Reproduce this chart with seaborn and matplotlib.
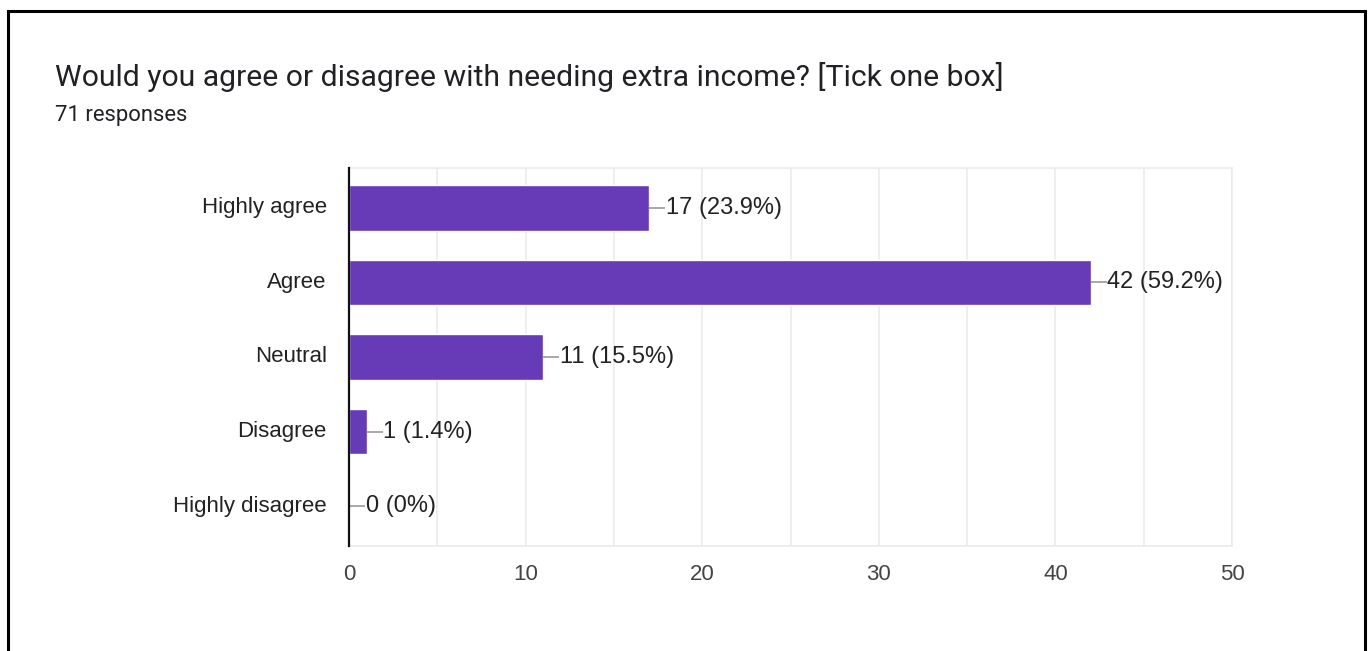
import matplotlib
matplotlib.use("Agg")
import matplotlib.pyplot as plt
import seaborn as sns
import pandas as pd
from matplotlib.patches import Rectangle
from matplotlib.ticker import MultipleLocator

categories = ["Highly agree", "Agree", "Neutral", "Disagree", "Highly disagree"]
counts = [17, 42, 11, 1, 0]
percent_labels = ["23.9%", "59.2%", "15.5%", "1.4%", "0%"]
x_ticks = [0, 10, 20, 30, 40, 50]

title = "Would you agree or disagree with needing extra income? [Tick one box]"
subtitle = "71 responses"

df = pd.DataFrame({"answer": categories, "count": counts})

sns.set_theme(style="white")
plt.rcParams["font.family"] = ["Liberation Sans", "DejaVu Sans"]

W, H, DPI = 1371, 651, 100
fig = plt.figure(figsize=(W / DPI, H / DPI), dpi=DPI)
fig.patch.set_facecolor("white")

# plot area in pixel terms
left, right, top, bottom = 349, 1232, 168, 546
ax = fig.add_axes([left / W, (H - bottom) / H, (right - left) / W, (bottom - top) / H])

sns.barplot(data=df, x="count", y="answer", order=categories, orient="h",
            color="#673AB7", saturation=1, width=0.61, ax=ax, zorder=3)

ax.set_xlim(0, 50)
ax.set_xticks(x_ticks)
ax.xaxis.set_minor_locator(MultipleLocator(5))
ax.grid(axis="x", which="both", color="#ebebeb", linewidth=1.2, zorder=0)
ax.set_axisbelow(True)
ax.set_xlabel("")
ax.set_ylabel("")

for side in ["top", "right", "bottom"]:
    ax.spines[side].set_color("#ebebeb")
    ax.spines[side].set_linewidth(1.2)
ax.spines["left"].set_color("#111111")
ax.spines["left"].set_linewidth(1.6)
ax.spines["left"].set_zorder(5)

ax.tick_params(axis="both", which="both", length=0)
ax.tick_params(axis="y", pad=16, labelsize=16, labelcolor="#222222")
ax.tick_params(axis="x", pad=13, labelsize=16, labelcolor="#444444")
for lbl in ax.get_yticklabels():
    lbl.set_va("center")

# leader line and value label at the end of each bar
px_per_unit = (right - left) / 50.0
lead = 16 / px_per_unit
for i, (c, p) in enumerate(zip(counts, percent_labels)):
    ax.plot([c, c + lead], [i, i], color="#999999", linewidth=1.2, zorder=4,
            solid_capstyle="butt", clip_on=False)
    ax.text(c + lead + 0.04, i, f"{c} ({p})", va="center", ha="left",
            fontsize=17, color="#222222", zorder=4)

fig.text(55 / W, 1 - 77 / H, title, ha="left", va="center",
         fontsize=21.7, color="#202124", family=["Roboto", "DejaVu Sans"])
fig.text(55 / W, 1 - 116 / H, subtitle, ha="left", va="center",
         fontsize=15.8, color="#202124", family=["Roboto", "DejaVu Sans"])

# card border (open at the bottom edge)
border = Rectangle((8 / W, -0.05), (1365 - 8) / W, (H - 11) / H + 0.05,
                   transform=fig.transFigure, fill=False, edgecolor="black",
                   linewidth=2.2, zorder=10)
fig.patches.append(border)

fig.savefig("out.png", dpi=DPI, facecolor="white")
